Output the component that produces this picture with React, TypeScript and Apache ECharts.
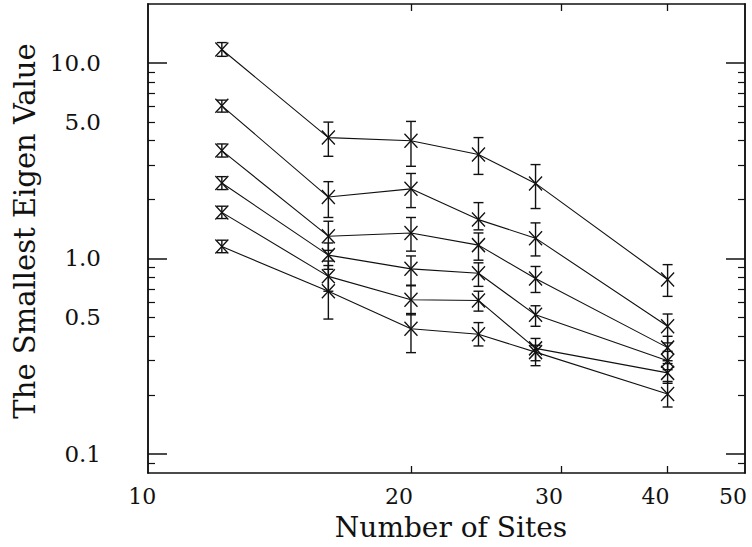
import React, { useEffect, useRef } from 'react';
import * as echarts from 'echarts';

// Number of sites (x values)
const sites = [12, 16, 20, 24, 28, 40];

// Series values (smallest eigen value) with lower / upper error limits
const s1 = [11.7, 4.15, 4.0, 3.4, 2.42, 0.78];
const s1Lo = [10.8, 3.33, 2.96, 2.69, 1.8, 0.64];
const s1Hi = [12.7, 4.98, 5.02, 4.15, 3.02, 0.93];

const s2 = [6.03, 2.06, 2.27, 1.58, 1.27, 0.45];
const s2Lo = [5.6, 1.62, 1.82, 1.4, 1.03, 0.37];
const s2Hi = [6.45, 2.47, 2.72, 1.93, 1.52, 0.52];

const s3 = [3.56, 1.3, 1.35, 1.17, 0.79, 0.35];
const s3Lo = [3.3, 1.1, 1.09, 0.98, 0.67, 0.3];
const s3Hi = [3.85, 1.55, 1.62, 1.35, 0.91, 0.4];

const s4 = [2.43, 1.04, 0.885, 0.84, 0.515, 0.3];
const s4Lo = [2.25, 0.88, 0.73, 0.72, 0.45, 0.27];
const s4Hi = [2.62, 1.2, 1.03, 0.95, 0.573, 0.335];

const s5 = [1.72, 0.81, 0.615, 0.61, 0.347, 0.26];
const s5Lo = [1.6, 0.68, 0.515, 0.538, 0.3, 0.23];
const s5Hi = [1.85, 0.97, 0.725, 0.68, 0.39, 0.29];

const s6 = [1.15, 0.68, 0.437, 0.41, 0.332, 0.203];
const s6Lo = [1.07, 0.49, 0.33, 0.357, 0.283, 0.174];
const s6Hi = [1.24, 0.92, 0.523, 0.47, 0.36, 0.235];

// Axis ranges
const xMin = 9.83;
const xMax = 49.3;
const yMin = 0.08;
const yMax = 20;

// Tick labels / tick positions
const xTickLabels = [10, 20, 30, 40, 50];
const xTicks = [20, 30, 40];
const yTickLabels = [0.1, 0.5, 1, 5, 10];
const yMajorTicks = [0.1, 1, 10];
const yMinorTicks = [
  0.09, 0.2, 0.3, 0.4, 0.5, 0.6, 0.7, 0.8, 0.9,
  2, 3, 4, 5, 6, 7, 8, 9,
];

const xTitle = 'Number of Sites';
const yTitle = 'The Smallest Eigen Value';

const FONT = 'DejaVu Serif';
const INK = '#111';

export default function App() {
  const ref = useRef<HTMLDivElement>(null);

  useEffect(() => {
    if (!ref.current) return;
    const chart = echarts.init(ref.current, null, { renderer: 'svg' });

    const values = [s1, s2, s3, s4, s5, s6];
    const lows = [s1Lo, s2Lo, s3Lo, s4Lo, s5Lo, s6Lo];
    const highs = [s1Hi, s2Hi, s3Hi, s4Hi, s5Hi, s6Hi];

    const lineSeries = values.map((vals, i) => ({
      type: 'line',
      name: 'S' + (i + 1),
      xAxisIndex: 0,
      yAxisIndex: 0,
      data: sites.map((x, j) => [x, vals[j]]),
      symbol: 'path://M0,0L10,10M10,0L0,10',
      symbolSize: [13, 14],
      symbolKeepAspect: false,
      lineStyle: { color: INK, width: 1.1 },
      itemStyle: { color: INK, borderColor: INK, borderWidth: 1.4 },
      z: 3,
    }));

    const errData: number[][] = [];
    lows.forEach((lo, i) => {
      sites.forEach((x, j) => errData.push([x, lo[j], highs[i][j]]));
    });

    const errSeries = {
      type: 'custom',
      xAxisIndex: 0,
      yAxisIndex: 0,
      data: errData,
      encode: { x: 0, y: [1, 2] },
      z: 2,
      renderItem: (params: any, api: any) => {
        const x = api.value(0);
        const lo = api.coord([x, api.value(1)]);
        const hi = api.coord([x, api.value(2)]);
        const w = 5;
        const style = { stroke: INK, lineWidth: 1.4 };
        return {
          type: 'group',
          children: [
            { type: 'line', shape: { x1: lo[0], y1: lo[1], x2: hi[0], y2: hi[1] }, style },
            { type: 'line', shape: { x1: lo[0] - w, y1: lo[1], x2: lo[0] + w, y2: lo[1] }, style },
            { type: 'line', shape: { x1: hi[0] - w, y1: hi[1], x2: hi[0] + w, y2: hi[1] }, style },
          ],
        };
      },
    };

    // y tick labels, placed through the y scale, right-aligned left of the frame
    const yLabelSeries = {
      type: 'custom',
      xAxisIndex: 0,
      yAxisIndex: 0,
      clip: false,
      silent: true,
      data: yTickLabels.map((v) => [xMin, v]),
      encode: { x: 0, y: 1 },
      renderItem: (params: any, api: any) => {
        const p = api.coord([api.value(0), api.value(1)]);
        return {
          type: 'text',
          x: p[0] - 47,
          y: p[1],
          style: {
            text: Number(api.value(1)).toFixed(1),
            fontFamily: FONT,
            fontSize: 23,
            fill: INK,
            textAlign: 'right',
            textVerticalAlign: 'middle',
          },
        };
      },
    };

    const axisLine = { show: true, lineStyle: { color: INK, width: 1.5 } };
    const yBase = {
      type: 'log',
      logBase: 10,
      min: yMin,
      max: yMax,
      splitLine: { show: false },
      axisLabel: { show: false },
      axisLine,
    };
    const xBase = {
      type: 'log',
      logBase: 10,
      min: xMin,
      max: xMax,
      splitLine: { show: false },
      axisLine,
    };

    chart.setOption({
      animation: false,
      backgroundColor: '#fff',
      grid: { left: 148, right: 7, top: 4, bottom: 74, containLabel: false },
      xAxis: [
        {
          ...xBase,
          position: 'bottom',
          axisTick: {
            show: true,
            inside: true,
            length: 7,
            customValues: xTicks,
            lineStyle: { color: INK, width: 1.3 },
          },
          axisLabel: {
            show: true,
            // the last label sits on the right frame edge
            customValues: xTickLabels.map((v) => Math.min(v, xMax)),
            formatter: (v: number) => String(Math.round(v / 10) * 10),
            fontFamily: FONT,
            fontSize: 22,
            color: INK,
            margin: 12,
            padding: [0, 24, 0, 0],
          },
        },
        {
          ...xBase,
          position: 'top',
          axisTick: {
            show: true,
            inside: true,
            length: 7,
            customValues: xTicks,
            lineStyle: { color: INK, width: 1.3 },
          },
          axisLabel: { show: false },
        },
      ],
      yAxis: [
        {
          ...yBase,
          position: 'left',
          axisTick: {
            show: true,
            inside: true,
            length: 19,
            customValues: yMajorTicks,
            lineStyle: { color: INK, width: 1.5 },
          },
        },
        {
          ...yBase,
          position: 'left',
          axisTick: {
            show: true,
            inside: true,
            length: 7,
            customValues: yMinorTicks,
            lineStyle: { color: INK, width: 1.2 },
          },
        },
        {
          ...yBase,
          position: 'right',
          axisTick: {
            show: true,
            inside: true,
            length: 19,
            customValues: yMajorTicks,
            lineStyle: { color: INK, width: 1.5 },
          },
        },
        {
          ...yBase,
          position: 'right',
          axisTick: {
            show: true,
            inside: true,
            length: 7,
            customValues: yMinorTicks,
            lineStyle: { color: INK, width: 1.2 },
          },
        },
      ],
      graphic: [
        {
          type: 'text',
          x: 451,
          y: 527,
          style: {
            text: xTitle,
            fontFamily: FONT,
            fontSize: 28,
            fill: INK,
            textAlign: 'center',
            textVerticalAlign: 'middle',
          },
        },
        {
          type: 'text',
          x: 25,
          y: 231,
          rotation: Math.PI / 2,
          style: {
            text: yTitle,
            fontFamily: FONT,
            fontSize: 29,
            fill: INK,
            textAlign: 'center',
            textVerticalAlign: 'middle',
          },
        },
      ],
      series: [errSeries, ...lineSeries, yLabelSeries],
    });

    return () => chart.dispose();
  }, []);

  return (
    <div
      ref={ref}
      style={{ position: 'fixed', left: 0, top: 0, width: 752, height: 547, background: '#fff' }}
    />
  );
}
